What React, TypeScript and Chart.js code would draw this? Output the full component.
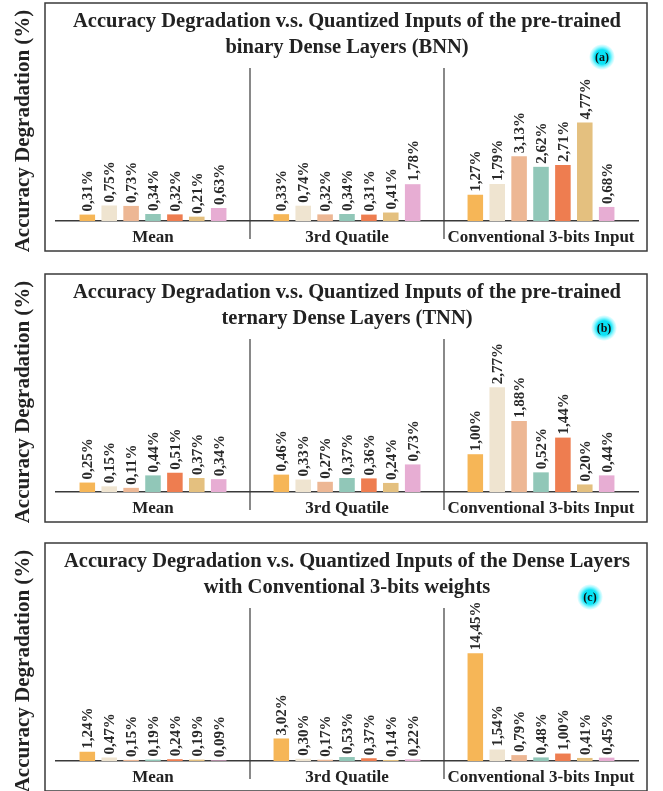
import React, { useEffect, useRef } from 'react';
import { Chart, registerables } from 'chart.js';

Chart.register(...registerables);

// ---------- data ----------
const CATEGORIES = ['Mean', '3rd Quatile', 'Conventional 3-bits Input'];
const SERIES_NAMES = ['Series 1', 'Series 2', 'Series 3', 'Series 4', 'Series 5', 'Series 6', 'Series 7'];
const SERIES_COLORS = ['#F6B657', '#EFE4D0', '#EDB794', '#91C7B8', '#EE7D50', '#E4C07F', '#E7ADD3'];
const Y_LABEL = 'Accuracy Degradation (%)';

const BNN_TITLE = ['Accuracy Degradation v.s. Quantized Inputs of the pre-trained', 'binary Dense Layers (BNN)'];
const BNN_MEAN = [0.31, 0.75, 0.73, 0.34, 0.32, 0.21, 0.63];
const BNN_Q3 = [0.33, 0.74, 0.32, 0.34, 0.31, 0.41, 1.78];
const BNN_CONV = [1.27, 1.79, 3.13, 2.62, 2.71, 4.77, 0.68];
const BNN_Y_MAX = 7.4;

const TNN_TITLE = ['Accuracy Degradation v.s. Quantized Inputs of the pre-trained', 'ternary Dense Layers (TNN)'];
const TNN_MEAN = [0.25, 0.15, 0.11, 0.44, 0.51, 0.37, 0.34];
const TNN_Q3 = [0.46, 0.33, 0.27, 0.37, 0.36, 0.24, 0.73];
const TNN_CONV = [1.0, 2.77, 1.88, 0.52, 1.44, 0.2, 0.44];
const TNN_Y_MAX = 4.05;

const C3_TITLE = ['Accuracy Degradation v.s. Quantized Inputs of the Dense Layers', 'with Conventional 3-bits weights'];
const C3_MEAN = [1.24, 0.47, 0.15, 0.19, 0.24, 0.19, 0.09];
const C3_Q3 = [3.02, 0.3, 0.17, 0.53, 0.37, 0.14, 0.22];
const C3_CONV = [14.45, 1.54, 0.79, 0.48, 1.0, 0.41, 0.45];
const C3_Y_MAX = 20.5;

// ---------- styling ----------
const SERIF = "'Liberation Serif', 'Times New Roman', serif";
const INK = '#222222';
const W = 663;

function fmt(v: number) {
  return v.toFixed(2).replace('.', ',') + '%';
}

function makeDecor(badge: string, badgeX: number) {
  return {
    id: 'decor',
    beforeDatasetsDraw(chart: any) {
      const ctx = chart.ctx;
      const xs = chart.scales.x;
      const area = chart.chartArea;
      ctx.save();
      ctx.strokeStyle = '#3a3a3a';
      ctx.lineWidth = 1.2;
      for (let i = 0; i < CATEGORIES.length - 1; i++) {
        const bx = (xs.getPixelForTick(i) + xs.getPixelForTick(i + 1)) / 2;
        ctx.beginPath();
        ctx.moveTo(bx, area.top);
        ctx.lineTo(bx, area.bottom + 18);
        ctx.stroke();
      }
      ctx.restore();
    },
    afterDatasetsDraw(chart: any) {
      const ctx = chart.ctx;
      ctx.save();
      ctx.fillStyle = '#2a2a2a';
      ctx.font = `bold 15px ${SERIF}`;
      ctx.textAlign = 'left';
      ctx.textBaseline = 'middle';
      chart.data.datasets.forEach((ds: any, di: number) => {
        const meta = chart.getDatasetMeta(di);
        meta.data.forEach((el: any, i: number) => {
          ctx.save();
          ctx.translate(el.x, el.y - 3);
          ctx.rotate(-Math.PI / 2);
          ctx.fillText(fmt(ds.data[i]), 0, 1);
          ctx.restore();
        });
      });
      ctx.restore();
    },
    afterDraw(chart: any) {
      const ctx = chart.ctx;
      ctx.save();
      // frame
      ctx.strokeStyle = '#3a3a3a';
      ctx.lineWidth = 1.5;
      ctx.strokeRect(45, 3, 602, 248);
      // y label
      ctx.save();
      ctx.translate(24, 131);
      ctx.rotate(-Math.PI / 2);
      ctx.fillStyle = INK;
      ctx.font = `bold 21px ${SERIF}`;
      ctx.textAlign = 'center';
      ctx.textBaseline = 'middle';
      ctx.fillText(Y_LABEL, 0, 0);
      ctx.restore();
      // badge
      const by = 57;
      const g = ctx.createRadialGradient(badgeX, by, 0, badgeX, by, 13);
      g.addColorStop(0, 'rgba(0,225,245,1)');
      g.addColorStop(0.55, 'rgba(0,225,245,0.95)');
      g.addColorStop(0.8, 'rgba(0,235,255,0.35)');
      g.addColorStop(1, 'rgba(0,235,255,0)');
      ctx.fillStyle = g;
      ctx.beginPath();
      ctx.arc(badgeX, by, 13, 0, Math.PI * 2);
      ctx.fill();
      ctx.fillStyle = '#111';
      ctx.font = `bold 12px ${SERIF}`;
      ctx.textAlign = 'center';
      ctx.textBaseline = 'middle';
      ctx.fillText(badge, badgeX, by + 0.5);
      ctx.restore();
    },
  };
}

interface PanelProps {
  top: number;
  height: number;
  title: string[];
  mean: number[];
  q3: number[];
  conv: number[];
  yMax: number;
  badge: string;
  badgeX: number;
}

function Panel({ top, height, title, mean, q3, conv, yMax, badge, badgeX }: PanelProps) {
  const ref = useRef<HTMLCanvasElement | null>(null);
  useEffect(() => {
    if (!ref.current) return;
    const datasets = SERIES_NAMES.map((name, s) => ({
      label: name,
      data: [mean[s], q3[s], conv[s]],
      backgroundColor: SERIES_COLORS[s],
      borderWidth: 0,
      categoryPercentage: 0.79,
      barPercentage: 0.71,
    }));
    const chart = new Chart(ref.current, {
      type: 'bar',
      data: { labels: CATEGORIES, datasets },
      options: {
        responsive: false,
        maintainAspectRatio: false,
        animation: false,
        layout: { padding: { left: 56, right: 25, top: 0, bottom: height - 253.4 } },
        plugins: {
          legend: { display: false },
          tooltip: { enabled: false },
          title: {
            display: true,
            text: title,
            color: INK,
            font: { family: SERIF, size: 20.5, weight: 'bold', lineHeight: 1.3 },
            padding: { top: 8, bottom: 6.7 },
          },
        },
        scales: {
          x: {
            grid: { display: false, drawTicks: false },
            border: { display: true, color: '#3a3a3a', width: 1.5 },
            ticks: { color: INK, padding: 6, font: { family: SERIF, size: 17, weight: 'bold', lineHeight: 1.2 } },
          },
          y: { display: false, min: 0, max: yMax },
        },
      } as any,
      plugins: [makeDecor(badge, badgeX)],
    });
    return () => chart.destroy();
  }, []);
  return (
    <canvas
      ref={ref}
      width={W}
      height={height}
      style={{ position: 'absolute', left: 0, top, width: W, height, display: 'block' }}
    />
  );
}

export default function App() {
  return (
    <div style={{ position: 'absolute', left: 0, top: 0, width: W, height: 791, background: '#fff', overflow: 'hidden' }}>
      <Panel top={0} height={266} title={BNN_TITLE} mean={BNN_MEAN} q3={BNN_Q3} conv={BNN_CONV} yMax={BNN_Y_MAX} badge="(a)" badgeX={602} />
      <Panel top={271} height={266} title={TNN_TITLE} mean={TNN_MEAN} q3={TNN_Q3} conv={TNN_CONV} yMax={TNN_Y_MAX} badge="(b)" badgeX={604} />
      <Panel top={540} height={251} title={C3_TITLE} mean={C3_MEAN} q3={C3_Q3} conv={C3_CONV} yMax={C3_Y_MAX} badge="(c)" badgeX={590} />
    </div>
  );
}
